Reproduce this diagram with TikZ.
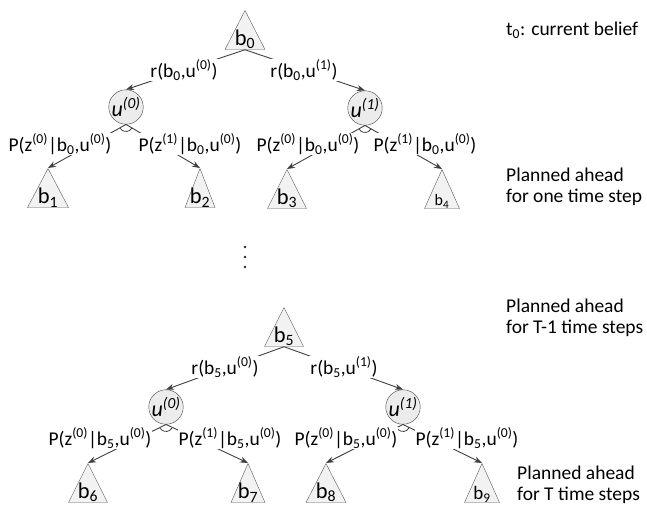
\documentclass[tikz,border=0pt]{standalone}
\usepackage{fontspec}
\setmainfont{Carlito}
\usetikzlibrary{shapes.geometric,arrows.meta,positioning}

\begin{document}
\begin{tikzpicture}[x=1pt, y=1pt,
    font=\fontsize{19.5}{21.5}\selectfont,
    belief/.style={isosceles triangle, shape border rotate=90, isosceles triangle stretches, draw=black!65, fill=gray!10, minimum height=39, minimum width=#1, inner sep=0, anchor=apex},
    belief/.default=40,
    btext/.style={anchor=south, inner sep=0.5pt, font=\fontsize{22.5}{24}\selectfont},
    action/.style={circle, draw=black!75, fill=gray!15, minimum size=34, inner sep=0, font=\fontsize{22}{24}\selectfont\itshape},
    edgelabel/.style={fill=white, inner sep=1pt},
    arrow/.style={-{Stealth[length=8pt, width=6pt]}, draw=black!75, line width=0.9pt},
    andarc/.style={draw=black!75, line width=0.8pt},
    note/.style={align=left, anchor=west, inner sep=0}
]
\useasboundingbox (0,0) rectangle (647,-506);

% First tree: current belief
\node[belief, label={[btext]south:b\textsubscript{0}}] (b0) at (245,-10) {};
\node[action] (a0l) at (126,-107) {u\textsuperscript{(0)}};
\node[action] (a0r) at (365,-108) {u\textsuperscript{(1)}};
\node[belief=41, label={[btext]south:b\textsubscript{1}}] (b1) at (48,-168) {};
\node[belief=30, label={[btext]south:b\textsubscript{2}}] (b2) at (200,-168) {};
\node[belief=39, label={[btext]south:b\textsubscript{3}}] (b3) at (287,-169) {};
\node[belief=35, label={[btext, font=\fontsize{16}{18}\selectfont]south:b\textsubscript{4}}] (b4) at (442,-169) {};

\draw[arrow] (b0.lower side) -- (a0l.north);
\draw[arrow] (b0.lower side) -- (a0r.north);
\draw[arrow] (a0l.south) -- (b1.apex);
\draw[arrow] (a0l.south) -- (b2.apex);
\draw[arrow] (a0r.south) -- (b3.apex);
\draw[arrow] (a0r.south) -- (b4.apex);
\draw[andarc] ([shift={(210:7)}]a0l.south) arc[start angle=210, end angle=330, radius=7];
\draw[andarc] ([shift={(210:7)}]a0r.south) arc[start angle=210, end angle=330, radius=7];

\node[edgelabel] (r0l) at (184,-70) {r(b\textsubscript{0},u\textsuperscript{(0)})};
\node[edgelabel] (r0r) at (304,-70) {r(b\textsubscript{0},u\textsuperscript{(1)})};
\node[edgelabel] (p0a) at (60,-144) {P(z\textsuperscript{(0)}|b\textsubscript{0},u\textsuperscript{(0)})};
\node[edgelabel] (p0b) at (190,-144) {P(z\textsuperscript{(1)}|b\textsubscript{0},u\textsuperscript{(0)})};
\node[edgelabel] (p0c) at (308,-144) {P(z\textsuperscript{(0)}|b\textsubscript{0},u\textsuperscript{(0)})};
\node[edgelabel] (p0d) at (425,-144) {P(z\textsuperscript{(1)}|b\textsubscript{0},u\textsuperscript{(0)})};

% Skipped steps
\foreach \y in {247,257,267}
    \fill[black!85] (245,-\y) circle (1.3);

% Second tree: T-1 steps ahead
\node[belief=39, label={[btext]south:b\textsubscript{5}}] (b5) at (284,-307) {};
\node[action] (a5l) at (166,-407) {u\textsuperscript{(0)}};
\node[action] (a5r) at (403,-407) {u\textsuperscript{(1)}};
\node[belief=39, label={[btext]south:b\textsubscript{6}}] (b6) at (88,-463) {};
\node[belief=34, label={[btext]south:b\textsubscript{7}}] (b7) at (248,-463) {};
\node[belief=40, label={[btext]south:b\textsubscript{8}}] (b8) at (326,-463) {};
\node[belief=35, label={[btext, font=\fontsize{19}{21}\selectfont]south:b\textsubscript{9}}] (b9) at (482,-463) {};

\draw[arrow] (b5.lower side) -- (a5l.north);
\draw[arrow] (b5.lower side) -- (a5r.north);
\draw[arrow] (a5l.south) -- (b6.apex);
\draw[arrow] (a5l.south) -- (b7.apex);
\draw[arrow] (a5r.south) -- (b8.apex);
\draw[arrow] (a5r.south) -- (b9.apex);
\draw[andarc] ([shift={(210:7)}]a5l.south) arc[start angle=210, end angle=330, radius=7];
\draw[andarc] ([shift={(210:7)}]a5r.south) arc[start angle=210, end angle=330, radius=7];

\node[edgelabel] (r5l) at (225,-367) {r(b\textsubscript{5},u\textsuperscript{(0)})};
\node[edgelabel] (r5r) at (344,-367) {r(b\textsubscript{5},u\textsuperscript{(1)})};
\node[edgelabel] (p5a) at (100,-438) {P(z\textsuperscript{(0)}|b\textsubscript{5},u\textsuperscript{(0)})};
\node[edgelabel] (p5b) at (230,-438) {P(z\textsuperscript{(1)}|b\textsubscript{5},u\textsuperscript{(0)})};
\node[edgelabel] (p5c) at (346,-438) {P(z\textsuperscript{(0)}|b\textsubscript{5},u\textsuperscript{(0)})};
\node[edgelabel] (p5d) at (467,-438) {P(z\textsuperscript{(1)}|b\textsubscript{5},u\textsuperscript{(0)})};

% Notes on the right
\node[note] (n0) at (506,-30) {t\textsubscript{0}: current belief};
\node[note] (n1) at (506,-187) {Planned ahead\\for one time step};
\node[note] (n2) at (506,-318) {Planned ahead\\for T-1 time steps};
\node[note] (n3) at (517,-485) {Planned ahead\\for T time steps};

\end{tikzpicture}
\end{document}
